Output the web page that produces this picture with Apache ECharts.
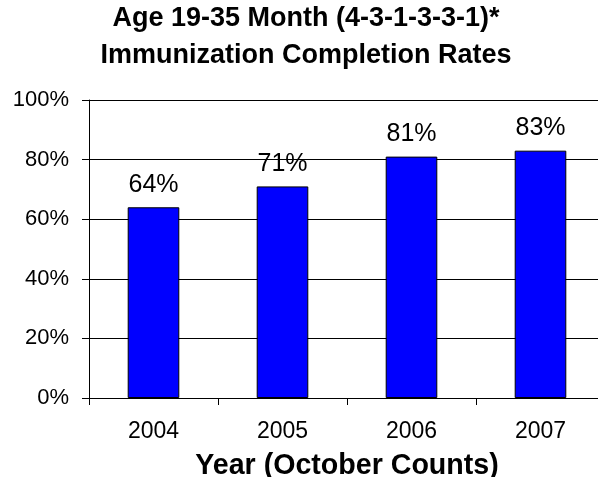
<!DOCTYPE html>
<html>
<head>
<meta charset="utf-8">
<script src="https://cdn.jsdelivr.net/npm/echarts@6/dist/echarts.min.js"></script>
<style>
  html, body { margin: 0; padding: 0; background: #fff; }
  #chart { width: 598px; height: 477px; }
</style>
</head>
<body>
<div id="chart"></div>
<script>
  const years = ['2004', '2005', '2006', '2007'];
  const rates = [64, 71, 81, 83];
  const yTicks = [0, 20, 40, 60, 80, 100];

  const font = '"Liberation Sans", Arial, sans-serif';
  const chart = echarts.init(document.getElementById('chart'));

  const option = {
    animation: false,
    backgroundColor: '#fff',
    title: {
      text: 'Age 19-35 Month (4-3-1-3-3-1)*\nImmunization Completion Rates',
      left: 306,
      top: 0,
      padding: 0,
      textAlign: 'center',
      textStyle: {
        fontFamily: font,
        fontSize: 27,
        fontWeight: 'bold',
        color: '#000',
        lineHeight: 37,
      },
    },
    grid: {
      left: 89,
      right: -7,
      top: 100,
      bottom: 79,
      containLabel: false,
      outerBoundsMode: 'none',
    },
    xAxis: {
      type: 'category',
      data: years,
      name: 'Year (October Counts)',
      nameLocation: 'middle',
      nameGap: 54,
      nameTextStyle: { fontFamily: font, fontSize: 28.6, fontWeight: 'bold', color: '#000' },
      axisLine: { lineStyle: { color: '#000', width: 1 } },
      axisTick: { show: true, length: 7, lineStyle: { color: '#000' } },
      axisLabel: { fontFamily: font, fontSize: 23, color: '#000', margin: 22 },
      splitLine: { show: false },
    },
    yAxis: {
      type: 'value',
      min: yTicks[0],
      max: yTicks[yTicks.length - 1],
      interval: 20,
      axisLine: { show: true, lineStyle: { color: '#000', width: 1 } },
      axisTick: { show: true, length: 7, lineStyle: { color: '#000' } },
      axisLabel: {
        fontFamily: font,
        fontSize: 22,
        color: '#000',
        margin: 20,
        formatter: (v) => v + '%',
      },
      splitLine: { show: true, lineStyle: { color: '#000', width: 1 } },
    },
    series: [
      {
        type: 'bar',
        data: rates,
        barWidth: '40%',
        itemStyle: { color: '#0000FF', borderColor: '#000', borderWidth: 1 },
        label: {
          show: true,
          position: 'top',
          distance: 10,
          fontFamily: font,
          fontSize: 25,
          color: '#000',
          formatter: (p) => p.value + '%',
        },
      },
    ],
  };

  chart.setOption(option);
</script>
</body>
</html>
